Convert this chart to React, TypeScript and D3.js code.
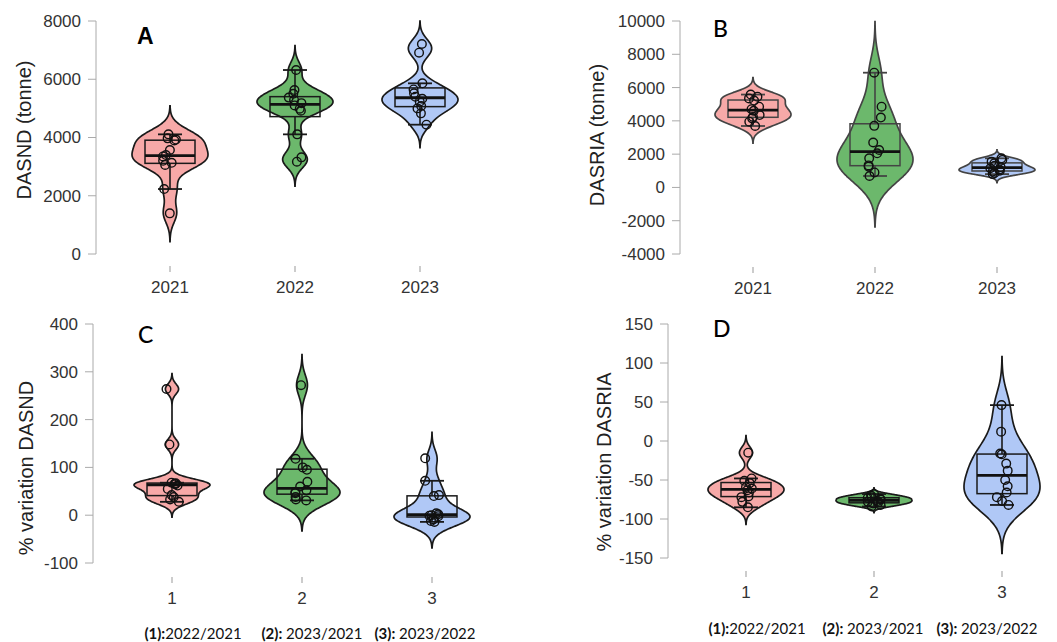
import React from "react";
import * as d3 from "d3";

// categories
const yearCats = ["2021", "2022", "2023"];
const ratioCats = ["1", "2", "3"];
const ratioNotes = [["(1):", "2022/2021"], ["(2):", " 2023/2021"], ["(3):", " 2023/2022"]];

// DASND (tonne), monthly values
const dasnd2021 = [1396, 2231, 3060, 3130, 3200, 3350, 3400, 3570, 3900, 3930, 3971, 4108];
const dasnd2022 = [3170, 3318, 4108, 4920, 4990, 5100, 5180, 5290, 5370, 5500, 5630, 6317];
const dasnd2023 = [4440, 4829, 5000, 5080, 5230, 5330, 5400, 5516, 5650, 5860, 6912, 7210];

// DASRIA (tonne), panel B
const dasria2021 = [3691, 3950, 4150, 4235, 4350, 4600, 4700, 4850, 5220, 5350, 5450, 5580];
const dasria2022 = [687, 900, 1250, 1325, 1750, 2050, 2250, 2700, 3700, 4200, 4850, 6894];
const dasria2023 = [800, 870, 950, 1000, 1080, 1150, 1220, 1300, 1450, 1550, 1650, 1750];

// % variation DASND, panel C
const varDasnd1 = [28, 33, 38, 42, 55, 62, 65, 66, 67, 68, 148, 264];
const varDasnd2 = [31, 33, 38, 46, 48, 52, 60, 70, 95, 100, 118, 272];
const varDasnd3 = [-14, -12, -9, -2, -1, 0, 2, 4, 40, 42, 72, 119];

// % variation DASRIA, panel D
const varDasria1 = [-85, -78, -72, -71, -66, -63, -61, -59, -54, -51, -48, -15];
const varDasria2 = [-84, -82, -80, -79, -78, -77, -75, -74, -73, -72, -70, -68];
const varDasria3 = [-82, -77, -72, -66, -58, -50, -38, -29, -17, -16, 12, 46];

const colors = ["#F7A9A8", "#6CB86C", "#B0C8F6"];

const panels = [
  {
    letter: "A", cats: yearCats, groups: [dasnd2021, dasnd2022, dasnd2023],
    yDomain: [0, 8000], yRange: [254, 21], ticks: d3.range(0, 8001, 2000),
    axisX: 96, xRange: [170, 420], xTickY: 266, xLabelY: 293,
    title: "DASND (tonne)", titleX: 24, titleY: 130, letterX: 137, letterY: 44, stroke: "#1a1a1a",
  },
  {
    letter: "B", cats: yearCats, groups: [dasria2021, dasria2022, dasria2023],
    yDomain: [-4000, 10000], yRange: [254, 21], ticks: d3.range(-4000, 10001, 2000),
    axisX: 680, xRange: [753, 997], xTickY: 267, xLabelY: 294,
    title: "DASRIA (tonne)", titleX: 597, titleY: 135, letterX: 713, letterY: 37, stroke: "#444",
  },
  {
    letter: "C", cats: ratioCats, groups: [varDasnd1, varDasnd2, varDasnd3],
    yDomain: [-100, 400], yRange: [563, 324], ticks: d3.range(-100, 401, 100),
    axisX: 93, xRange: [172, 432], xTickY: 577, xLabelY: 604,
    title: "% variation DASND", titleX: 26, titleY: 468, letterX: 138, letterY: 343, stroke: "#1a1a1a",
    notes: { y: 639, xs: [193, 312, 425] },
  },
  {
    letter: "D", cats: ratioCats, groups: [varDasria1, varDasria2, varDasria3],
    yDomain: [-150, 150], yRange: [558, 324], ticks: d3.range(-150, 151, 50),
    axisX: 668, xRange: [746, 1002], xTickY: 571, xLabelY: 598,
    title: "% variation DASRIA", titleX: 604, titleY: 462, letterX: 713, letterY: 337, stroke: "#1a1a1a",
    notes: { y: 634, xs: [757, 873, 987] },
  },
];

// R's bw.nrd0
function bandwidth(vals: number[]) {
  const s = [...vals].sort(d3.ascending);
  const iqr = d3.quantileSorted(s, 0.75)! - d3.quantileSorted(s, 0.25)!;
  const lo = Math.min(d3.deviation(s)!, iqr / 1.34);
  return 0.9 * lo * Math.pow(s.length, -0.2);
}

function density(vals: number[]) {
  const bw = bandwidth(vals);
  const lo = d3.min(vals)! - 3 * bw;
  const hi = d3.max(vals)! + 3 * bw;
  const n = 256;
  return d3.range(n).map((i) => {
    const v = lo + ((hi - lo) * i) / (n - 1);
    const d = d3.sum(vals, (x) => Math.exp(-0.5 * ((v - x) / bw) ** 2));
    return { v, d };
  });
}

function boxStats(vals: number[]) {
  const s = [...vals].sort(d3.ascending);
  const q1 = d3.quantileSorted(s, 0.25)!;
  const med = d3.quantileSorted(s, 0.5)!;
  const q3 = d3.quantileSorted(s, 0.75)!;
  const iqr = q3 - q1;
  const hiW = d3.max(s.filter((v) => v <= q3 + 1.5 * iqr))!;
  const loW = d3.min(s.filter((v) => v >= q1 - 1.5 * iqr))!;
  return { q1, med, q3, hiW, loW };
}

const VIOLIN_HALF = 38;
const BOX_HALF = 25;
const CAP_HALF = 12;
const jitter = d3.randomUniform.source(d3.randomLcg(0.37))(-7, 7);

const axisFont = "'Liberation Sans', Arial, sans-serif";

function Panel({ p }: { p: any }) {
  const y = d3.scaleLinear().domain(p.yDomain).range(p.yRange);
  const x = d3.scalePoint().domain(p.cats).range(p.xRange);

  return (
    <g>
      {/* y axis */}
      <line x1={p.axisX} x2={p.axisX} y1={y(p.ticks[0])} y2={y(p.ticks[p.ticks.length - 1])} stroke="#aaa" strokeWidth={1} />
      {p.ticks.map((t: number) => (
        <g key={t}>
          <line x1={p.axisX - 8} x2={p.axisX} y1={y(t)} y2={y(t)} stroke="#aaa" />
          <text x={p.axisX - 15} y={y(t)} dy="0.35em" textAnchor="end" fontSize={17} fill="#333" fontFamily={axisFont}>
            {t}
          </text>
        </g>
      ))}
      <text transform={`translate(${p.titleX},${p.titleY}) rotate(-90)`} textAnchor="middle" dy="0.35em" fontSize={20} fill="#222" fontFamily={axisFont}>
        {p.title}
      </text>

      {/* x ticks */}
      {p.cats.map((c: string) => (
        <g key={c}>
          <line x1={x(c)} x2={x(c)} y1={p.xTickY} y2={p.xTickY + 6} stroke="#999" />
          <text x={x(c)} y={p.xLabelY} textAnchor="middle" fontSize={17} fill="#333" fontFamily={axisFont}>
            {c}
          </text>
        </g>
      ))}

      {/* violins, boxes, points */}
      {p.groups.map((vals: number[], i: number) => {
        const cx = x(p.cats[i])!;
        const dens = density(vals);
        const maxD = d3.max(dens, (d) => d.d)!;
        const w = d3.scaleLinear().domain([0, maxD]).range([0, VIOLIN_HALF]);
        const area = d3
          .area<{ v: number; d: number }>()
          .y((d) => y(d.v))
          .x0((d) => cx - w(d.d))
          .x1((d) => cx + w(d.d))
          .curve(d3.curveMonotoneY);
        const b = boxStats(vals);
        return (
          <g key={i}>
            <path d={area(dens)!} fill={colors[i]} stroke={p.stroke} strokeWidth={1.7} />
            <line x1={cx} x2={cx} y1={y(b.q3)} y2={y(b.hiW)} stroke={p.stroke} strokeWidth={1.6} />
            <line x1={cx} x2={cx} y1={y(b.q1)} y2={y(b.loW)} stroke={p.stroke} strokeWidth={1.6} />
            <line x1={cx - CAP_HALF} x2={cx + CAP_HALF} y1={y(b.hiW)} y2={y(b.hiW)} stroke={p.stroke} strokeWidth={1.8} />
            <line x1={cx - CAP_HALF} x2={cx + CAP_HALF} y1={y(b.loW)} y2={y(b.loW)} stroke={p.stroke} strokeWidth={1.8} />
            <rect x={cx - BOX_HALF} y={y(b.q3)} width={BOX_HALF * 2} height={y(b.q1) - y(b.q3)} fill="none" stroke={p.stroke} strokeWidth={1.5} />
            <line x1={cx - BOX_HALF} x2={cx + BOX_HALF} y1={y(b.med)} y2={y(b.med)} stroke="#111" strokeWidth={2.8} />
            {vals.map((v, k) => (
              <circle key={k} cx={cx + jitter()} cy={y(v)} r={4.3} fill="none" stroke="#111" strokeWidth={1.4} />
            ))}
          </g>
        );
      })}

      {/* panel letter */}
      <text x={p.letterX} y={p.letterY} fontSize={p.letter === "A" ? 23 : 23} fill="#000" fontFamily={p.letter === "A" ? axisFont : "Lato, sans-serif"} fontWeight={p.letter === "A" ? 600 : 500}>
        {p.letter}
      </text>

      {/* comparison notes */}
      {p.notes &&
        ratioNotes.map((n, i) => (
          <text key={i} x={p.notes.xs[i]} y={p.notes.y} textAnchor="middle" fontSize={15} fill="#111" fontFamily="Lato, sans-serif">
            <tspan fontWeight={700}>{n[0]}</tspan>
            <tspan>{n[1]}</tspan>
          </text>
        ))}
    </g>
  );
}

export default function App() {
  return (
    <svg width={1057} height={642} style={{ position: "absolute", left: 0, top: 0, background: "#fff" }}>
      {panels.map((p) => (
        <Panel key={p.letter} p={p} />
      ))}
    </svg>
  );
}
